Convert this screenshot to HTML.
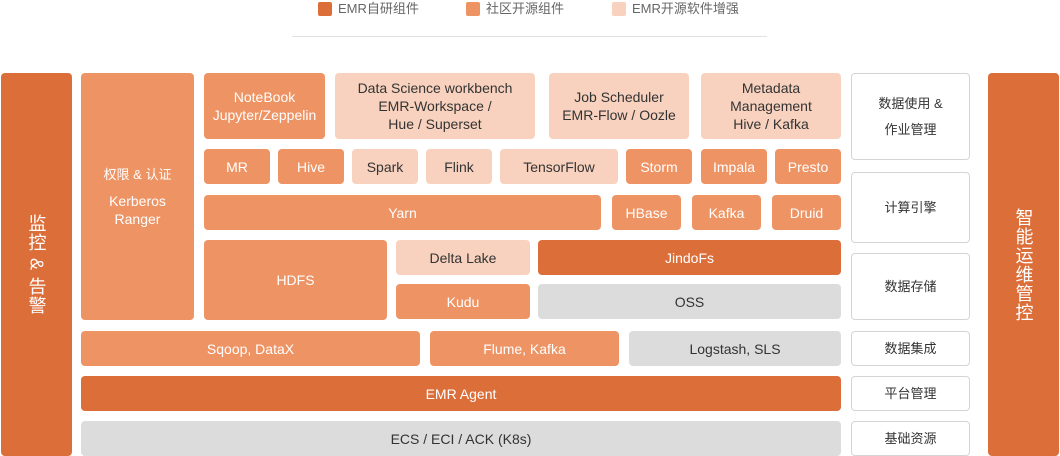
<!DOCTYPE html>
<html><head><meta charset="utf-8"><style>
*{margin:0;padding:0;box-sizing:border-box}
body{width:1060px;height:456px;background:#fff;position:relative;overflow:hidden;font-family:"Liberation Sans","Noto Sans CJK SC",sans-serif}
.b{position:absolute;border-radius:4px;display:flex;align-items:center;justify-content:center;text-align:center;font-size:14px;line-height:18px;color:#fff}
.d{background:#DC6E39}.m{background:#EE9363}.l{background:#F8D2BE;color:#333}.g{background:#DCDCDC;color:#333}
.w{background:#fff;border:1px solid #d4d4d4;color:#333;font-size:13px;line-height:26px}
.lg{position:absolute;top:0;font-size:13px;color:#666;line-height:18px}
.sq{position:absolute;top:2px;width:14px;height:14px;border-radius:2px}
.v{writing-mode:vertical-rl;font-size:18px;letter-spacing:1px;line-height:20px}
</style></head><body>
<div class="sq d" style="left:318px"></div><div class="lg" style="left:338px">EMR自研组件</div>
<div class="sq m" style="left:466px"></div><div class="lg" style="left:486px">社区开源组件</div>
<div class="sq l" style="left:612px"></div><div class="lg" style="left:632px">EMR开源软件增强</div>
<div style="position:absolute;left:292px;top:36px;width:475px;height:1px;background:#e2e2e2"></div>

<div class="b d" style="left:1px;top:73px;width:71px;height:383px"><span class="v">监控 &amp; 告警</span></div>
<div class="b d" style="left:988px;top:73px;width:71px;height:383px"><span class="v">智能运维管控</span></div>

<div class="b m" style="left:81px;top:73px;width:113px;height:247px;flex-direction:column;font-size:13px"><div>权限 &amp; 认证</div><div style="margin-top:8px;font-size:14px">Kerberos<br>Ranger</div></div>

<div class="b m" style="left:204px;top:73px;width:121px;height:66px">NoteBook<br>Jupyter/Zeppelin</div>
<div class="b l" style="left:335px;top:73px;width:200px;height:66px">Data Science workbench<br>EMR-Workspace /<br>Hue / Superset</div>
<div class="b l" style="left:549px;top:73px;width:140px;height:66px">Job Scheduler<br>EMR-Flow / Oozle</div>
<div class="b l" style="left:701px;top:73px;width:140px;height:66px">Metadata<br>Management<br>Hive / Kafka</div>

<div class="b m" style="left:204px;top:149px;width:66px;height:35px">MR</div>
<div class="b m" style="left:278px;top:149px;width:66px;height:35px">Hive</div>
<div class="b l" style="left:352px;top:149px;width:66px;height:35px">Spark</div>
<div class="b l" style="left:426px;top:149px;width:66px;height:35px">Flink</div>
<div class="b l" style="left:500px;top:149px;width:118px;height:35px">TensorFlow</div>
<div class="b m" style="left:626px;top:149px;width:66px;height:35px">Storm</div>
<div class="b m" style="left:701px;top:149px;width:66px;height:35px">Impala</div>
<div class="b m" style="left:775px;top:149px;width:66px;height:35px">Presto</div>

<div class="b m" style="left:204px;top:195px;width:397px;height:35px">Yarn</div>
<div class="b m" style="left:612px;top:195px;width:69px;height:35px">HBase</div>
<div class="b m" style="left:692px;top:195px;width:69px;height:35px">Kafka</div>
<div class="b m" style="left:772px;top:195px;width:69px;height:35px">Druid</div>

<div class="b m" style="left:204px;top:240px;width:183px;height:80px">HDFS</div>
<div class="b l" style="left:396px;top:240px;width:134px;height:35px">Delta Lake</div>
<div class="b m" style="left:396px;top:284px;width:134px;height:35px">Kudu</div>
<div class="b d" style="left:538px;top:240px;width:303px;height:35px">JindoFs</div>
<div class="b g" style="left:538px;top:284px;width:303px;height:35px">OSS</div>

<div class="b m" style="left:81px;top:331px;width:339px;height:35px">Sqoop, DataX</div>
<div class="b m" style="left:430px;top:331px;width:189px;height:35px">Flume, Kafka</div>
<div class="b g" style="left:629px;top:331px;width:212px;height:35px">Logstash, SLS</div>

<div class="b d" style="left:81px;top:376px;width:760px;height:35px">EMR Agent</div>
<div class="b g" style="left:81px;top:421px;width:760px;height:35px">ECS / ECI / ACK (K8s)</div>

<div class="b w" style="left:851px;top:73px;width:119px;height:87px">数据使用 &amp;<br>作业管理</div>
<div class="b w" style="left:851px;top:172px;width:119px;height:71px">计算引擎</div>
<div class="b w" style="left:851px;top:253px;width:119px;height:67px">数据存储</div>
<div class="b w" style="left:851px;top:331px;width:119px;height:35px">数据集成</div>
<div class="b w" style="left:851px;top:376px;width:119px;height:35px">平台管理</div>
<div class="b w" style="left:851px;top:421px;width:119px;height:35px">基础资源</div>
</body></html>
